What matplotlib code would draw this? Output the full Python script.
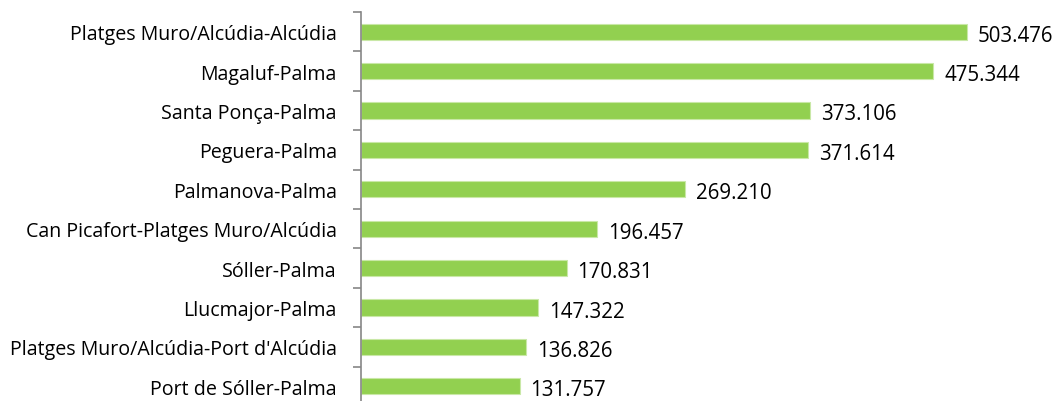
import matplotlib
matplotlib.use("Agg")
import matplotlib.pyplot as plt

categories = [
    "Platges Muro/Alcúdia-Alcúdia",
    "Magaluf-Palma",
    "Santa Ponça-Palma",
    "Peguera-Palma",
    "Palmanova-Palma",
    "Can Picafort-Platges Muro/Alcúdia",
    "Sóller-Palma",
    "Llucmajor-Palma",
    "Platges Muro/Alcúdia-Port d'Alcúdia",
    "Port de Sóller-Palma",
]
values = [503476, 475344, 373106, 371614, 269210, 196457, 170831, 147322, 136826, 131757]

plt.rcParams['font.family'] = ['Open Sans', 'DejaVu Sans']

W, H = 1056, 402
fig = plt.figure(figsize=(W / 100, H / 100), dpi=100)
left = 361 / W
top = 13
bottom = 407
right = 1050
ax = fig.add_axes([left, 1 - bottom / H, (right - 361) / W, (bottom - top) / H])

px_per_unit = (967 - 361) / 503476
xmax = (right - 361) / px_per_unit

y = list(range(len(categories)))
ax.barh(y, values, height=0.41, color="#92D050", edgecolor="#C9E8A7", linewidth=0.8)
ax.set_xlim(0, xmax)
ax.set_ylim(len(categories) - 0.5, -0.5)

for yi, v in zip(y, values):
    s = f"{v:,}".replace(",", ".")
    ax.annotate(s, (v, yi), xytext=(11, -3.5), textcoords="offset pixels",
                va="center", ha="left", fontsize=14.8, color="#000000")

ax.set_yticks(y)
ax.set_yticklabels(categories, fontsize=14.1)
ax.set_yticks([i + 0.5 for i in range(-1, len(categories))], minor=True)
ax.tick_params(axis="y", which="major", length=0, pad=17.3)
ax.tick_params(axis="y", which="minor", length=6, width=1.2, color="#868686")
ax.set_xticks([])
for s in ["top", "right", "bottom"]:
    ax.spines[s].set_visible(False)
ax.spines["left"].set_color("#868686")
ax.spines["left"].set_linewidth(1.2)

fig.savefig("out.png", dpi=100)
